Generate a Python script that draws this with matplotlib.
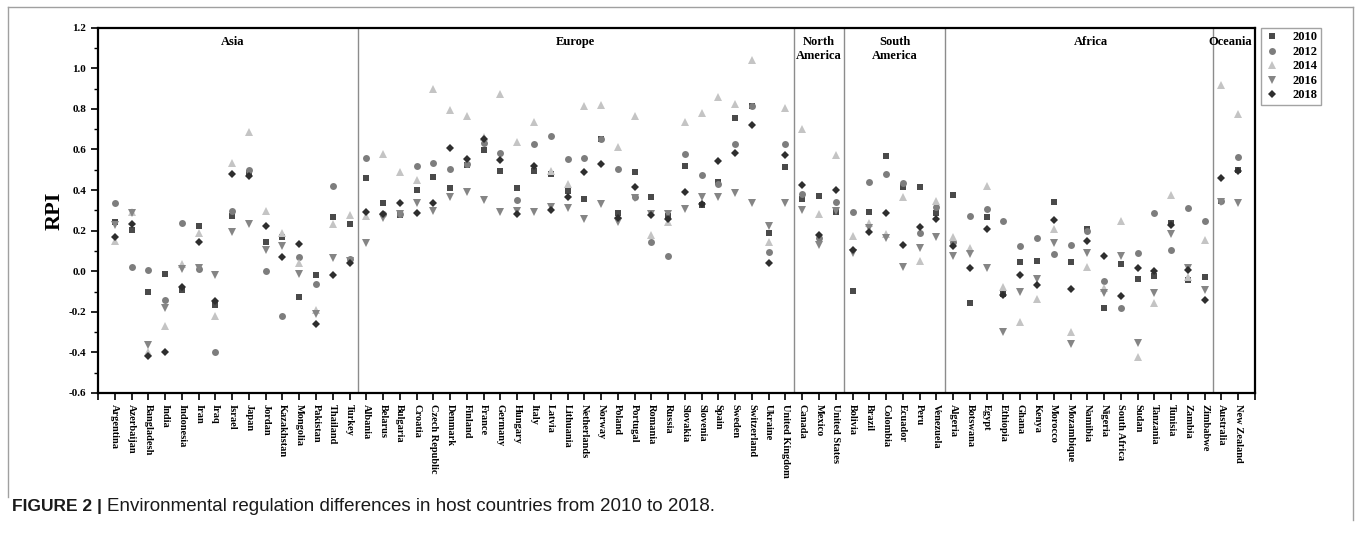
import matplotlib
matplotlib.use("Agg")
import matplotlib.pyplot as plt
from matplotlib.lines import Line2D

plt.rcParams['axes.unicode_minus'] = False

countries = ["Argentina", "Azerbaijan", "Bangladesh", "India", "Indonesia", "Iran", "Iraq",
             "Israel", "Japan", "Jordan", "Kazakhstan", "Mongolia", "Pakistan", "Thailand", "Turkey",
             "Albania", "Belarus", "Bulgaria", "Croatia", "Czech Republic", "Denmark", "Finland",
             "France", "Germany", "Hungary", "Italy", "Latvia", "Lithuania", "Netherlands", "Norway",
             "Poland", "Portugal", "Romania", "Russia", "Slovakia", "Slovenia", "Spain", "Sweden",
             "Switzerland", "Ukraine", "United Kingdom",
             "Canada", "Mexico", "United States",
             "Bolivia", "Brazil", "Colombia", "Ecuador", "Peru", "Venezuela",
             "Algeria", "Botswana", "Egypt", "Ethiopia", "Ghana", "Kenya", "Morocco", "Mozambique",
             "Namibia", "Nigeria", "South Africa", "Sudan", "Tanzania", "Tunisia", "Zambia", "Zimbabwe",
             "Australia", "New Zealand"]

regions = ["Asia", "Europe", "North\nAmerica", "South\nAmerica", "Africa", "Oceania"]
region_sizes = [15, 26, 3, 6, 16, 2]

rpi_2010 = [0.244, 0.203, -0.103, -0.015, -0.092, 0.223, -0.166, 0.274, 0.485, 0.144, 0.167, -0.128, -0.021, 0.267, 0.233,
            0.457, 0.334, 0.277, 0.400, 0.462, 0.411, 0.525, 0.597, 0.493, 0.411, 0.495, 0.477, 0.395, 0.354, 0.654,
            0.288, 0.490, 0.367, 0.270, 0.519, 0.326, 0.441, 0.756, 0.814, 0.187, 0.514,
            0.354, 0.372, 0.293,
            -0.096, 0.293, 0.567, 0.416, 0.413, 0.285,
            0.375, -0.157, 0.265, -0.110, 0.047, 0.050, 0.339, 0.044, 0.208, -0.179, 0.034, -0.040, -0.023, 0.236, -0.043, -0.026,
            0.347, 0.500]
rpi_2012 = [0.336, 0.020, 0.007, -0.143, 0.236, 0.010, -0.400, 0.295, 0.498, 0.000, -0.220, 0.072, -0.064, 0.420, 0.061,
            0.558, 0.280, 0.280, 0.520, 0.534, 0.506, 0.530, 0.633, 0.585, 0.351, 0.629, 0.667, 0.551, 0.556, 0.650,
            0.503, 0.367, 0.142, 0.075, 0.577, 0.474, 0.428, 0.629, 0.814, 0.097, 0.629,
            0.383, 0.162, 0.339,
            0.290, 0.441, 0.477, 0.436, 0.190, 0.318,
            0.145, 0.272, 0.306, 0.247, 0.124, 0.165, 0.083, 0.129, 0.198, -0.048, -0.182, 0.088, 0.285, 0.105, 0.314, 0.247,
            0.345, 0.564]
rpi_2014 = [0.151, 0.290, -0.400, -0.272, 0.036, 0.190, -0.220, 0.531, 0.684, 0.297, 0.187, 0.043, -0.193, 0.231, 0.279,
            0.272, 0.577, 0.490, 0.449, 0.897, 0.793, 0.765, 0.660, 0.875, 0.638, 0.733, 0.495, 0.428, 0.813, 0.818,
            0.613, 0.764, 0.178, 0.244, 0.736, 0.782, 0.859, 0.822, 1.041, 0.142, 0.802,
            0.703, 0.282, 0.572,
            0.176, 0.236, 0.183, 0.364, 0.052, 0.346,
            0.167, 0.113, 0.421, -0.080, -0.252, -0.138, 0.208, -0.300, 0.020, -0.084, 0.247, -0.425, -0.155, 0.375, -0.026, 0.154,
            0.916, 0.777]
rpi_2016 = [0.226, 0.285, -0.362, -0.179, 0.010, 0.018, -0.021, 0.195, 0.234, 0.105, 0.126, -0.013, -0.210, 0.067, 0.050,
            0.141, 0.260, 0.280, 0.334, 0.298, 0.367, 0.388, 0.351, 0.293, 0.298, 0.293, 0.318, 0.310, 0.255, 0.331,
            0.244, 0.362, 0.280, 0.282, 0.306, 0.367, 0.364, 0.387, 0.334, 0.223, 0.338,
            0.301, 0.129, 0.296,
            0.088, 0.211, 0.162, 0.020, 0.116, 0.167,
            0.077, 0.085, 0.018, -0.300, -0.100, -0.040, 0.137, -0.359, 0.088, -0.108, 0.077, -0.354, -0.108, 0.183, 0.014, -0.092,
            0.342, 0.334]
rpi_2018 = [0.167, 0.231, -0.420, -0.400, -0.077, 0.144, -0.149, 0.477, 0.470, 0.225, 0.072, 0.134, -0.260, -0.018, 0.043,
            0.290, 0.280, 0.334, 0.288, 0.334, 0.608, 0.552, 0.654, 0.547, 0.280, 0.518, 0.301, 0.367, 0.487, 0.528,
            0.260, 0.416, 0.277, 0.255, 0.392, 0.331, 0.544, 0.585, 0.720, 0.039, 0.575,
            0.424, 0.178, 0.400,
            0.104, 0.195, 0.285, 0.129, 0.219, 0.257,
            0.124, 0.018, 0.206, -0.116, -0.021, -0.070, 0.252, -0.087, 0.151, 0.077, -0.120, 0.014, 0.003, 0.228, 0.006, -0.144,
            0.460, 0.495]

years = ["2010", "2012", "2014", "2016", "2018"]
series = [rpi_2010, rpi_2012, rpi_2014, rpi_2016, rpi_2018]
markers = ["s", "o", "^", "v", "D"]
colors = ["#4a4a4a", "#7d7d7d", "#c4c4c4", "#858585", "#2e2e2e"]
sizes = [4.6, 5.0, 5.8, 5.8, 4.4]

serif = "Liberation Serif"

fig = plt.figure(figsize=(13.56, 5.33), dpi=100)
ax = fig.add_axes([0.0723, 0.2627, 0.8532, 0.6853])

x = list(range(1, len(countries) + 1))
for vals, m, c, s, lab in zip(series, markers, colors, sizes, years):
    ax.plot(x, vals, linestyle="none", marker=m, color=c, markersize=s,
            markeredgewidth=0, label=lab)

ax.set_xlim(0, len(countries) + 1)
ax.set_ylim(-0.6, 1.2)

# region separators and labels
start = 0.5
for name, n in zip(regions, region_sizes):
    end = start + n
    if end < len(countries) + 0.5:
        ax.axvline(end, color="#8c8c8c", linewidth=1.0)
    mid = (start + end) / 2
    if name == "Africa":
        mid += 0.7
    ax.text(mid, 1.16, name, ha="center", va="top", fontsize=9, fontweight="bold",
            family=serif, linespacing=1.2)
    start = end

ax.set_xticks(range(0, len(countries) + 2))
ax.set_xticklabels([""] + countries + [""], rotation=-90, fontsize=7.5, fontweight="bold",
                   family=serif)
ax.set_yticks([-0.6 + 0.2 * i for i in range(10)])
ax.set_yticklabels([f"{-0.6 + 0.2 * i:.1f}" for i in range(10)], fontsize=8, fontweight="bold",
                   family=serif)
ax.set_yticks([-0.5 + 0.2 * i for i in range(9)], minor=True)
ax.tick_params(axis="both", direction="out", length=5, width=1.2)
ax.tick_params(axis="y", which="minor", direction="out", length=3, width=1.0)
ax.tick_params(axis="x", pad=3)
for sp in ax.spines.values():
    sp.set_linewidth(1.6)

ax.set_ylabel("RPI", fontsize=16, fontweight="bold", family=serif, labelpad=3)

handles = [Line2D([], [], linestyle="none", marker=m, color=c, markersize=s, markeredgewidth=0)
           for m, c, s in zip(markers, colors, sizes)]
leg = ax.legend(handles, years, loc="upper left", bbox_to_anchor=(1.005, 1.0),
                prop={"family": serif, "weight": "bold", "size": 9},
                frameon=True, fancybox=False, edgecolor="#8c8c8c", handlelength=1.2,
                handletextpad=1.0, borderpad=0.3, labelspacing=0.2, borderaxespad=0.0)
leg.get_frame().set_linewidth(1.0)

# outer frame
fr = "#a0a0a0"
fig.add_artist(Line2D([0.006, 0.006], [0.068, 0.987], transform=fig.transFigure, color=fr, linewidth=1))
fig.add_artist(Line2D([0.9975, 0.9975], [0.025, 0.987], transform=fig.transFigure, color=fr, linewidth=1))
fig.add_artist(Line2D([0.006, 0.9975], [0.987, 0.987], transform=fig.transFigure, color=fr, linewidth=1))

# caption
t1 = fig.text(0.009, 0.041, "FIGURE 2 |", fontsize=12.5, fontweight="bold",
              family=["Liberation Sans Narrow", "Liberation Sans"], color="#1a1a1a", va="baseline")
fig.canvas.draw()
bb = t1.get_window_extent()
x2 = (bb.x1 + 5) / fig.bbox.width
fig.text(x2, 0.041, "Environmental regulation differences in host countries from 2010 to 2018.",
         fontsize=13.5, family="Liberation Sans", color="#1a1a1a", va="baseline")

fig.savefig("out.png", dpi=100)
